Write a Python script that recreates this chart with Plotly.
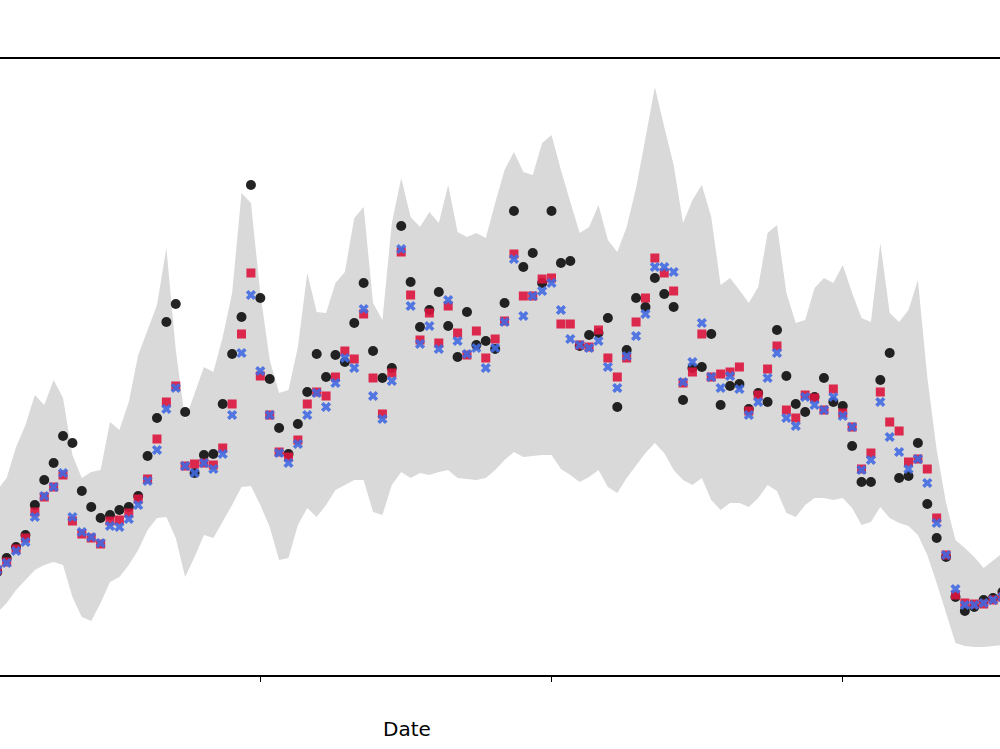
import pandas as pd
import plotly.graph_objects as go

# Daily dates (day 0 = 2023-07-01)
dates = pd.date_range("2023-06-03", periods=108, freq="D")

actual = [103, 117, 128, 140, 170, 195, 212, 239, 232, 184, 168, 157, 160, 165, 168, 179, 219, 257,
          353, 371, 263, 202, 220, 221, 271, 321, 358, 490, 377, 296, 247, 221, 251, 283, 321, 298,
          320, 313, 352, 392, 324, 297, 307, 449, 393, 348, 365, 383, 349, 318, 363, 330, 334, 326,
          372, 464, 408, 422, 392, 464, 412, 414, 329, 340, 342, 357, 268, 325, 377, 368, 397, 381,
          368, 275, 307, 308, 341, 270, 289, 291, 266, 282, 273, 345, 299, 271, 263, 278, 297, 273,
          269, 229, 193, 193, 295, 322, 197, 199, 232, 171, 137, 118, 78, 64, 68, 75, 77, 83]

model_a = [105, 113, 126, 137, 163, 178, 188, 200, 154, 141, 137, 131, 154, 155, 162, 176, 196, 236,
           273, 289, 209, 211, 212, 210, 227, 271, 341, 402, 299, 260, 223, 218, 235, 271, 283, 279,
           298, 324, 316, 361, 297, 261, 302, 423, 380, 335, 362, 332, 369, 342, 320, 344, 317, 336,
           354, 421, 379, 379, 396, 397, 351, 351, 330, 328, 345, 317, 298, 317, 353, 377, 417, 402,
           384, 292, 303, 341, 298, 301, 303, 308, 264, 280, 306, 329, 265, 257, 280, 277, 265, 286,
           262, 248, 206, 222, 283, 253, 244, 213, 216, 206, 157, 120, 80, 72, 71, 71, 75, 78]

model_b = [105, 112, 124, 133, 158, 179, 188, 202, 158, 143, 138, 132, 149, 148, 156, 170, 194, 225,
           266, 287, 209, 202, 212, 206, 221, 260, 322, 380, 304, 260, 222, 212, 231, 260, 282, 268,
           292, 317, 307, 366, 279, 256, 294, 426, 369, 331, 349, 326, 375, 334, 321, 327, 307, 327,
           353, 416, 359, 379, 384, 392, 365, 336, 330, 327, 334, 308, 287, 319, 339, 361, 408, 408,
           403, 293, 313, 352, 298, 287, 299, 286, 260, 273, 297, 322, 257, 249, 278, 270, 265, 278,
           259, 248, 205, 215, 273, 238, 223, 206, 216, 192, 152, 120, 86, 70, 70, 72, 75, 78]

band_upper = [185, 197, 228, 250, 280, 270, 295, 277, 220, 197, 203, 205, 253, 245, 273, 320, 345, 370,
              427, 325, 255, 282, 308, 303, 338, 382, 482, 472, 382, 315, 282, 285, 328, 402, 363, 362,
              392, 403, 457, 468, 372, 355, 452, 497, 458, 448, 463, 452, 490, 443, 438, 442, 437, 472,
              505, 523, 503, 500, 532, 540, 505, 473, 442, 448, 470, 435, 423, 448, 487, 537, 588, 548,
              510, 452, 475, 490, 458, 390, 397, 385, 372, 388, 442, 450, 382, 352, 355, 387, 397, 392,
              410, 382, 357, 353, 432, 362, 353, 365, 395, 298, 225, 172, 135, 127, 118, 107, 115, 122]

band_lower = [62, 72, 85, 95, 105, 110, 113, 110, 78, 58, 54, 72, 93, 98, 110, 125, 145, 157,
              158, 137, 98, 118, 140, 137, 153, 170, 188, 189, 170, 148, 115, 117, 150, 167, 158, 170,
              185, 190, 195, 195, 163, 160, 190, 203, 197, 202, 200, 203, 205, 197, 196, 195, 197, 205,
              215, 223, 218, 219, 220, 220, 206, 200, 193, 198, 205, 188, 182, 197, 210, 222, 232, 222,
              205, 195, 190, 197, 175, 165, 172, 172, 168, 177, 190, 184, 162, 158, 170, 177, 177, 175,
              177, 167, 150, 153, 168, 157, 152, 149, 140, 120, 92, 62, 32, 29, 28, 28, 29, 30]

tick_dates = ["2023-07-01", "2023-08-01", "2023-09-01"]

ref = pd.Timestamp("2023-07-01")
x_left = ref + pd.Timedelta(days=-27.71)
x_right = ref + pd.Timedelta(days=78.74)

fig = go.Figure()

fig.add_trace(go.Scatter(x=dates, y=band_lower, mode="lines", line=dict(width=0),
                         showlegend=False, hoverinfo="skip"))
fig.add_trace(go.Scatter(x=dates, y=band_upper, mode="lines", line=dict(width=0),
                         fill="tonexty", fillcolor="#d9d9d9", showlegend=False, hoverinfo="skip"))

fig.add_trace(go.Scatter(x=dates, y=actual, mode="markers", name="Actual",
                         marker=dict(symbol="circle", size=10, color="#111111", opacity=0.92,
                                     line=dict(width=0))))
fig.add_trace(go.Scatter(x=dates, y=model_a, mode="markers", name="Model A",
                         marker=dict(symbol="square", size=9, color="#dc143c", opacity=0.9,
                                     line=dict(width=0))))
fig.add_trace(go.Scatter(x=dates, y=model_b, mode="markers", name="Model B",
                         marker=dict(symbol="x", size=9, color="#4169e1", opacity=0.9,
                                     line=dict(width=0))))

fig.update_layout(
    width=1000, height=749,
    margin=dict(l=0, r=0, t=59, b=74),
    paper_bgcolor="white", plot_bgcolor="white",
    showlegend=False,
    font=dict(family="DejaVu Sans", color="black"),
    xaxis=dict(type="date", range=[x_left, x_right], showgrid=False, zeroline=False,
               showline=True, mirror=True, linecolor="black", linewidth=1.5,
               ticks="outside", ticklen=5, tickwidth=1.3, tickcolor="black",
               tickmode="array", tickvals=tick_dates, showticklabels=False),
    yaxis=dict(range=[0, 616], visible=False),
    annotations=[dict(text="Date", xref="paper", yref="paper", x=0.4065, y=(675 - 729) / 616,
                      xanchor="center", yanchor="middle", showarrow=False,
                      font=dict(family="DejaVu Sans", size=20, color="black"))],
)

fig.write_html("out.html")
